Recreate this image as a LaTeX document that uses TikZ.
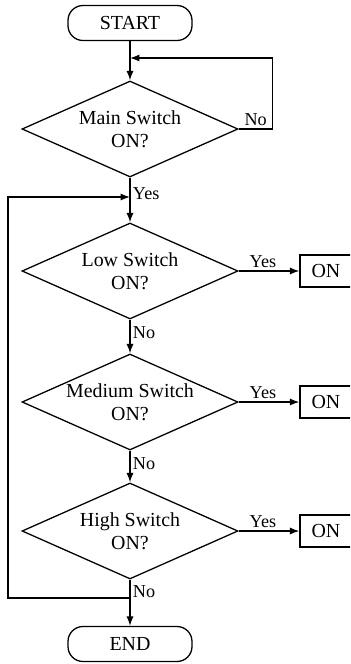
\documentclass[tikz,border=0pt]{standalone}
\usepackage{fontspec}
\setmainfont{Liberation Serif}
\usepackage{tikz}
\usetikzlibrary{shapes.geometric, arrows.meta}

\tikzset{
    terminal/.style={draw, rectangle, rounded corners=0.45cm, minimum width=3.72cm, minimum height=1.05cm, inner sep=0pt, font=\fontsize{17}{20}\selectfont},
    decision/.style={draw, diamond, aspect=2.25, minimum width=6.48cm, minimum height=2.88cm, inner sep=0pt, align=center, font=\fontsize{17}{20}\selectfont},
    outbox/.style={draw, rectangle, minimum width=1.56cm, minimum height=0.96cm, inner sep=0pt, font=\fontsize{17}{20}\selectfont},
    lbl/.style={font=\fontsize{15.5}{17}\selectfont, inner sep=2pt}
}

\begin{document}
\begin{tikzpicture}[x=0.03cm, y=-0.03cm, line width=1.1pt, >={Latex[length=8pt,width=6pt]}]
                \useasboundingbox (0,0) rectangle (350,664);
                \clip (0,0) rectangle (350,664);

                \node[terminal] (start) at (130, 23) {START};
                \node[decision] (main) at (130, 129) {Main Switch\\ON?};
                \node[decision] (low) at (130, 271) {Low Switch\\ON?};
                \node[decision] (medium) at (130, 402) {Medium Switch\\ON?};
                \node[decision] (high) at (130, 531) {High Switch\\ON?};
                \node[terminal] (finish) at (130, 644) {END};
                \node[outbox] (on1) at (326, 271) {ON};
                \node[outbox] (on2) at (326, 402) {ON};
                \node[outbox] (on3) at (326, 531) {ON};
                \coordinate (retmain) at (130, 58);
                \coordinate (retloop) at (130, 197);
                \coordinate (split) at (130, 598);

                \draw[->] (start) -- (main);
                \draw[->] (main.east) -- node[lbl, above] {No} ++(34, 0) |- (retmain);
                \draw[->] (main) -- node[lbl, right, pos=0.35] {Yes} (low);
                \draw[->] (low) -- node[lbl, right, pos=0.4] {No} (medium);
                \draw[->] (medium) -- node[lbl, right, pos=0.4] {No} (high);
                \draw[->] (high) -- node[lbl, right, pos=0.27] {No} (finish);
                \draw[->] (split) -- ++(-122, 0) |- (retloop);
                \draw[->] (low.east) -- node[lbl, above, pos=0.4] {Yes} (on1);
                \draw[->] (medium.east) -- node[lbl, above, pos=0.4] {Yes} (on2);
                \draw[->] (high.east) -- node[lbl, above, pos=0.4] {Yes} (on3);
            \end{tikzpicture}
\end{document}
